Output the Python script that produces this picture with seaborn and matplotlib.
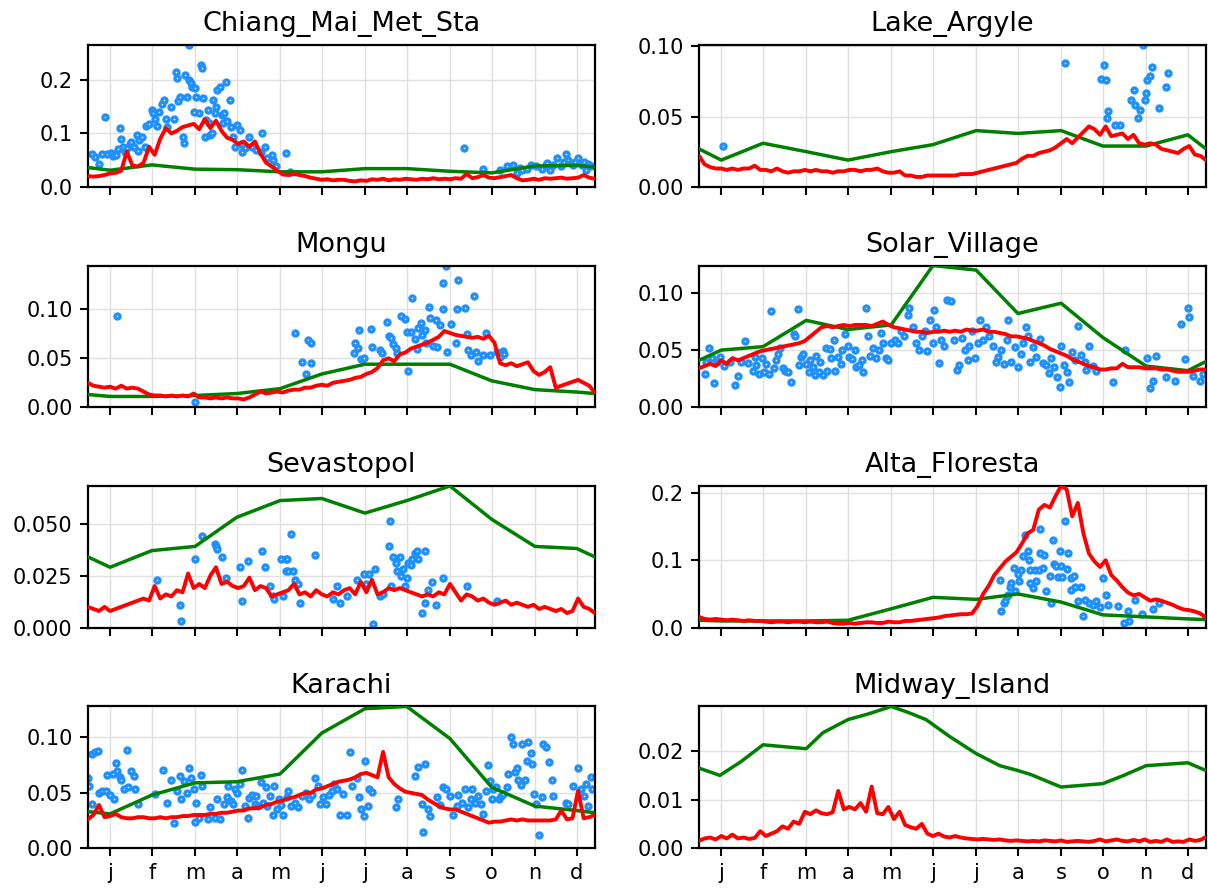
import numpy as np
import matplotlib
matplotlib.use("Agg")
import matplotlib.pyplot as plt
import seaborn as sns
from matplotlib.ticker import MultipleLocator

sns.set_theme(style="ticks")
plt.rcParams['font.family'] = ['DejaVu Sans']
plt.rcParams['text.color'] = 'black'
plt.rcParams['xtick.color'] = 'black'
plt.rcParams['ytick.color'] = 'black'

# eje x: dias del año, marcas a mitad de mes
month_ticks = [16, 46, 77, 107, 138, 168, 199, 229, 260, 290, 321, 351]
month_labels = ['j', 'f', 'm', 'a', 'm', 'j', 'j', 'a', 's', 'o', 'n', 'd']

red_days = np.arange(0, 365, 4)   # linea roja leida cada 4 dias (92 valores)
green_days = [0, 16, 46, 77, 107, 138, 168, 199, 229, 260, 290, 321, 351, 364]

# ---------------- Chiang_Mai_Met_Sta ----------------
chiang_red = [0.020, 0.019, 0.020, 0.022, 0.025, 0.026, 0.030, 0.066, 0.040, 0.038,
              0.045, 0.075, 0.060, 0.090, 0.110, 0.100, 0.105, 0.112, 0.115, 0.118,
              0.108, 0.127, 0.110, 0.124, 0.105, 0.092, 0.088, 0.080, 0.085, 0.075,
              0.085, 0.062, 0.045, 0.038, 0.030, 0.023, 0.022, 0.024, 0.022, 0.020,
              0.017, 0.015, 0.013, 0.014, 0.012, 0.013, 0.013, 0.011, 0.010, 0.012,
              0.011, 0.014, 0.013, 0.015, 0.012, 0.014, 0.013, 0.015, 0.014, 0.013,
              0.015, 0.014, 0.016, 0.014, 0.015, 0.014, 0.016, 0.015, 0.024, 0.016,
              0.018, 0.022, 0.017, 0.016, 0.018, 0.020, 0.022, 0.016, 0.012, 0.013,
              0.015, 0.013, 0.016, 0.015, 0.016, 0.017, 0.015, 0.016, 0.017, 0.022,
              0.017, 0.015]
chiang_green = [0.036, 0.031, 0.041, 0.033, 0.032, 0.028, 0.028, 0.034, 0.034, 0.029,
                0.026, 0.039, 0.040, 0.037]
chiang_dots = [(3, 0.061), (5, 0.055), (8, 0.042), (10, 0.062), (12, 0.130), (14, 0.061),
               (17, 0.064), (18, 0.058), (20, 0.059), (22, 0.070), (23, 0.110), (24, 0.089),
               (25, 0.075), (27, 0.066), (28, 0.072), (30, 0.081), (31, 0.084), (33, 0.075),
               (35, 0.097), (36, 0.068), (37, 0.088), (39, 0.094), (41, 0.075), (42, 0.114),
               (44, 0.118), (46, 0.144), (47, 0.138), (48, 0.128), (50, 0.114), (51, 0.141),
               (53, 0.156), (55, 0.163), (56, 0.128), (57, 0.113), (60, 0.150), (62, 0.128),
               (63, 0.216), (64, 0.204), (65, 0.160), (66, 0.169), (68, 0.094), (69, 0.083),
               (70, 0.209), (71, 0.169), (73, 0.200), (73, 0.266), (74, 0.194), (75, 0.188),
               (76, 0.140), (77, 0.186), (78, 0.169), (80, 0.138), (81, 0.228), (82, 0.222),
               (83, 0.166), (84, 0.094), (85, 0.125), (86, 0.144), (87, 0.120), (88, 0.097),
               (89, 0.100), (90, 0.163), (91, 0.138), (92, 0.150), (93, 0.181), (95, 0.188),
               (96, 0.134), (97, 0.120), (98, 0.138), (99, 0.197), (100, 0.124), (102, 0.163),
               (103, 0.113), (104, 0.094), (106, 0.075), (107, 0.116), (109, 0.106), (110, 0.081),
               (111, 0.066), (113, 0.072), (116, 0.094), (118, 0.075), (121, 0.069), (124, 0.066),
               (125, 0.100), (127, 0.075), (129, 0.053), (132, 0.059), (133, 0.050), (135, 0.038),
               (142, 0.064), (145, 0.028), (270, 0.072), (284, 0.034), (296, 0.031), (301, 0.038),
               (305, 0.041), (308, 0.025), (310, 0.036), (312, 0.031), (315, 0.034), (318, 0.041),
               (322, 0.038), (326, 0.034), (329, 0.041), (330, 0.045), (332, 0.031), (334, 0.041),
               (337, 0.053), (340, 0.038), (342, 0.047), (343, 0.062), (345, 0.050), (347, 0.044),
               (348, 0.040), (350, 0.047), (352, 0.053), (355, 0.041), (356, 0.046), (358, 0.031),
               (359, 0.043), (361, 0.038)]

# ---------------- Lake_Argyle ----------------
lake_red = [0.022, 0.016, 0.014, 0.013, 0.013, 0.012, 0.013, 0.012, 0.013, 0.013,
            0.015, 0.012, 0.012, 0.011, 0.013, 0.011, 0.010, 0.011, 0.011, 0.012,
            0.011, 0.012, 0.011, 0.011, 0.010, 0.011, 0.011, 0.012, 0.012, 0.011,
            0.012, 0.012, 0.013, 0.011, 0.010, 0.010, 0.011, 0.008, 0.008, 0.007,
            0.007, 0.008, 0.008, 0.008, 0.008, 0.008, 0.008, 0.009, 0.009, 0.009,
            0.010, 0.011, 0.012, 0.013, 0.014, 0.015, 0.016, 0.017, 0.020, 0.022,
            0.022, 0.024, 0.025, 0.026, 0.028, 0.031, 0.034, 0.031, 0.035, 0.039,
            0.043, 0.041, 0.037, 0.043, 0.036, 0.037, 0.038, 0.034, 0.037, 0.031,
            0.030, 0.031, 0.030, 0.027, 0.026, 0.025, 0.024, 0.027, 0.029, 0.023,
            0.022, 0.019]
lake_green = [0.027, 0.019, 0.031, 0.025, 0.019, 0.025, 0.030, 0.040, 0.038, 0.040,
              0.029, 0.029, 0.037, 0.027]
lake_dots = [(17, 0.029), (263, 0.088), (289, 0.077), (291, 0.087), (292, 0.076), (293, 0.049),
             (294, 0.054), (299, 0.044), (302, 0.044), (310, 0.062), (312, 0.069), (313, 0.058),
             (315, 0.049), (317, 0.055), (319, 0.101), (320, 0.062), (321, 0.067), (322, 0.076),
             (324, 0.079), (325, 0.085), (330, 0.056), (335, 0.071), (337, 0.081)]

# ---------------- Mongu ----------------
mongu_red = [0.025, 0.022, 0.021, 0.020, 0.021, 0.019, 0.022, 0.019, 0.020, 0.019,
             0.016, 0.013, 0.012, 0.012, 0.011, 0.012, 0.011, 0.012, 0.011, 0.014,
             0.010, 0.010, 0.009, 0.010, 0.009, 0.010, 0.009, 0.009, 0.008, 0.010,
             0.013, 0.016, 0.014, 0.015, 0.016, 0.015, 0.017, 0.018, 0.018, 0.020,
             0.020, 0.022, 0.023, 0.022, 0.025, 0.026, 0.027, 0.028, 0.030, 0.031,
             0.034, 0.036, 0.040, 0.048, 0.050, 0.047, 0.054, 0.056, 0.060, 0.062,
             0.064, 0.066, 0.069, 0.072, 0.078, 0.076, 0.074, 0.073, 0.072, 0.071,
             0.072, 0.070, 0.073, 0.066, 0.045, 0.043, 0.045, 0.042, 0.044, 0.046,
             0.037, 0.033, 0.036, 0.041, 0.020, 0.022, 0.024, 0.026, 0.028, 0.025,
             0.022, 0.015]
mongu_green = [0.013, 0.011, 0.011, 0.012, 0.014, 0.019, 0.034, 0.044, 0.044, 0.044,
               0.027, 0.018, 0.0155, 0.014]
mongu_dots = [(21, 0.093), (77, 0.005), (149, 0.076), (154, 0.046), (157, 0.034), (158, 0.069),
              (160, 0.066), (160, 0.045), (191, 0.055), (192, 0.066), (194, 0.061), (195, 0.079),
              (196, 0.049), (198, 0.050), (203, 0.080), (204, 0.062), (210, 0.059), (211, 0.055),
              (215, 0.087), (216, 0.073), (218, 0.071), (219, 0.065), (221, 0.061), (222, 0.055),
              (225, 0.093), (228, 0.090), (229, 0.077), (230, 0.037), (232, 0.077), (233, 0.112),
              (235, 0.070), (236, 0.060), (237, 0.081), (239, 0.086), (240, 0.074), (242, 0.079),
              (243, 0.066), (245, 0.103), (246, 0.091), (248, 0.063), (250, 0.089), (251, 0.062),
              (253, 0.084), (255, 0.101), (255, 0.127), (257, 0.145), (258, 0.057), (261, 0.085),
              (264, 0.066), (265, 0.101), (266, 0.130), (271, 0.102), (272, 0.075), (273, 0.059),
              (275, 0.053), (277, 0.114), (279, 0.056), (280, 0.047), (284, 0.053), (286, 0.076),
              (289, 0.053), (294, 0.057), (296, 0.051), (298, 0.058), (299, 0.054)]

# ---------------- Solar_Village ----------------
solar_red = [0.034, 0.036, 0.038, 0.036, 0.041, 0.038, 0.043, 0.041, 0.043, 0.045,
             0.047, 0.049, 0.050, 0.051, 0.052, 0.053, 0.054, 0.055, 0.056, 0.058,
             0.062, 0.066, 0.070, 0.071, 0.070, 0.071, 0.072, 0.071, 0.072, 0.072,
             0.072, 0.071, 0.073, 0.075, 0.072, 0.070, 0.069, 0.068, 0.067, 0.066,
             0.066, 0.065, 0.066, 0.066, 0.067, 0.066, 0.067, 0.066, 0.068, 0.067,
             0.067, 0.068, 0.066, 0.066, 0.065, 0.064, 0.062, 0.062, 0.061, 0.060,
             0.058, 0.056, 0.054, 0.051, 0.049, 0.047, 0.045, 0.042, 0.040, 0.038,
             0.036, 0.035, 0.033, 0.033, 0.034, 0.034, 0.038, 0.035, 0.035, 0.035,
             0.034, 0.034, 0.034, 0.033, 0.033, 0.032, 0.031, 0.031, 0.031, 0.032,
             0.033, 0.033]
solar_green = [0.041, 0.050, 0.053, 0.076, 0.068, 0.072, 0.124, 0.120, 0.082, 0.091,
               0.061, 0.036, 0.032, 0.040]
solar_dots = [(4, 0.029), (5, 0.040), (7, 0.052), (9, 0.043), (11, 0.021), (13, 0.040),
              (15, 0.044), (18, 0.036), (22, 0.040), (26, 0.019), (28, 0.027), (30, 0.040),
              (33, 0.058), (35, 0.039), (39, 0.032), (40, 0.044), (41, 0.037), (43, 0.029),
              (45, 0.043), (47, 0.031), (48, 0.038), (50, 0.029), (52, 0.084), (54, 0.034),
              (55, 0.041), (57, 0.047), (58, 0.052), (60, 0.034), (62, 0.032), (64, 0.031),
              (66, 0.022), (68, 0.064), (69, 0.062), (71, 0.086), (72, 0.037), (73, 0.044),
              (75, 0.047), (77, 0.038), (79, 0.031), (80, 0.041), (82, 0.035), (83, 0.028),
              (84, 0.045), (86, 0.031), (87, 0.040), (89, 0.028), (91, 0.052), (92, 0.032),
              (94, 0.051), (95, 0.043), (97, 0.059), (98, 0.032), (100, 0.044), (102, 0.038),
              (103, 0.050), (105, 0.064), (107, 0.054), (108, 0.044), (110, 0.042), (112, 0.050),
              (113, 0.035), (115, 0.037), (117, 0.041), (118, 0.031), (120, 0.087), (121, 0.062),
              (123, 0.045), (125, 0.052), (127, 0.043), (129, 0.050), (131, 0.065), (132, 0.056),
              (134, 0.043), (136, 0.041), (138, 0.056), (141, 0.059), (143, 0.056), (145, 0.067),
              (147, 0.062), (150, 0.081), (151, 0.087), (154, 0.070), (156, 0.056), (158, 0.050),
              (160, 0.062), (162, 0.067), (164, 0.049), (166, 0.076), (168, 0.056), (169, 0.085),
              (170, 0.070), (172, 0.039), (174, 0.059), (176, 0.054), (178, 0.094), (181, 0.093),
              (183, 0.059), (185, 0.033), (187, 0.037), (189, 0.061), (191, 0.050), (193, 0.041),
              (194, 0.054), (196, 0.067), (198, 0.043), (200, 0.056), (202, 0.076), (204, 0.059),
              (206, 0.070), (208, 0.062), (211, 0.054), (213, 0.040), (215, 0.044), (217, 0.050),
              (219, 0.038), (221, 0.059), (222, 0.076), (224, 0.040), (227, 0.053), (229, 0.035),
              (231, 0.047), (233, 0.056), (235, 0.070), (236, 0.062), (238, 0.040), (240, 0.053),
              (242, 0.044), (245, 0.060), (247, 0.039), (249, 0.037), (251, 0.030), (253, 0.043),
              (255, 0.035), (257, 0.026), (259, 0.018), (260, 0.054), (262, 0.037), (264, 0.031),
              (266, 0.022), (268, 0.048), (270, 0.041), (272, 0.071), (274, 0.046), (277, 0.040),
              (278, 0.033), (280, 0.054), (283, 0.036), (285, 0.032), (297, 0.022), (306, 0.050),
              (322, 0.043), (324, 0.017), (326, 0.023), (328, 0.045), (335, 0.026), (342, 0.023),
              (346, 0.073), (349, 0.042), (351, 0.087), (352, 0.079), (355, 0.027), (360, 0.023),
              (362, 0.029)]

# ---------------- Sevastopol ----------------
sevas_red = [0.010, 0.009, 0.008, 0.010, 0.008, 0.009, 0.010, 0.011, 0.012, 0.013,
             0.014, 0.013, 0.020, 0.014, 0.016, 0.015, 0.018, 0.017, 0.026, 0.019,
             0.021, 0.019, 0.025, 0.029, 0.021, 0.022, 0.020, 0.019, 0.020, 0.024,
             0.018, 0.020, 0.019, 0.015, 0.016, 0.017, 0.018, 0.021, 0.016, 0.017,
             0.015, 0.018, 0.016, 0.015, 0.017, 0.016, 0.018, 0.019, 0.016, 0.022,
             0.017, 0.023, 0.016, 0.017, 0.019, 0.018, 0.019, 0.018, 0.017, 0.016,
             0.015, 0.016, 0.015, 0.017, 0.016, 0.021, 0.017, 0.013, 0.016, 0.015,
             0.013, 0.014, 0.012, 0.011, 0.012, 0.013, 0.011, 0.012, 0.011, 0.010,
             0.011, 0.009, 0.010, 0.009, 0.008, 0.009, 0.007, 0.008, 0.014, 0.010,
             0.009, 0.007]
sevas_green = [0.034, 0.029, 0.037, 0.039, 0.053, 0.061, 0.062, 0.055, 0.061, 0.068,
               0.052, 0.039, 0.038, 0.034]
sevas_dots = [(50, 0.023), (66, 0.011), (67, 0.003), (77, 0.033), (82, 0.044), (91, 0.040),
              (92, 0.039), (93, 0.038), (96, 0.034), (99, 0.024), (109, 0.029), (111, 0.013),
              (115, 0.032), (125, 0.037), (127, 0.029), (131, 0.020), (133, 0.015), (134, 0.014),
              (139, 0.033), (140, 0.015), (142, 0.033), (143, 0.033), (142, 0.027), (144, 0.027),
              (146, 0.045), (147, 0.027), (149, 0.023), (151, 0.021), (152, 0.012), (163, 0.035),
              (176, 0.014), (179, 0.020), (181, 0.012), (186, 0.015), (193, 0.023), (198, 0.026),
              (200, 0.021), (202, 0.026), (205, 0.002), (206, 0.028), (210, 0.015), (212, 0.016),
              (216, 0.039), (217, 0.051), (218, 0.020), (219, 0.034), (221, 0.031), (222, 0.027),
              (224, 0.034), (225, 0.025), (226, 0.028), (228, 0.020), (229, 0.024), (230, 0.031),
              (232, 0.030), (233, 0.033), (235, 0.036), (236, 0.037), (237, 0.033), (240, 0.007),
              (242, 0.037), (242, 0.012), (244, 0.018), (247, 0.022), (250, 0.011), (255, 0.024),
              (272, 0.020), (294, 0.013)]

# ---------------- Alta_Floresta ----------------
alta_red = [0.016, 0.013, 0.012, 0.013, 0.012, 0.011, 0.012, 0.011, 0.010, 0.011,
            0.010, 0.010, 0.009, 0.008, 0.009, 0.009, 0.008, 0.009, 0.009, 0.008,
            0.009, 0.008, 0.008, 0.009, 0.007, 0.006, 0.006, 0.007, 0.006, 0.007,
            0.008, 0.008, 0.007, 0.007, 0.009, 0.008, 0.008, 0.010, 0.010, 0.011,
            0.012, 0.013, 0.014, 0.015, 0.017, 0.018, 0.019, 0.020, 0.020, 0.021,
            0.032, 0.050, 0.062, 0.078, 0.088, 0.098, 0.105, 0.112, 0.125, 0.140,
            0.145, 0.175, 0.182, 0.178, 0.195, 0.210, 0.205, 0.165, 0.185, 0.140,
            0.110, 0.098, 0.090, 0.100, 0.078, 0.070, 0.060, 0.052, 0.048, 0.050,
            0.045, 0.040, 0.042, 0.040, 0.037, 0.034, 0.030, 0.027, 0.026, 0.024,
            0.021, 0.015]
alta_green = [0.011, 0.010, 0.010, 0.010, 0.011, 0.028, 0.045, 0.042, 0.050, 0.038,
              0.019, 0.016, 0.013, 0.012]
alta_dots = [(216, 0.071), (217, 0.024), (219, 0.036), (220, 0.040), (221, 0.047), (222, 0.048),
             (223, 0.061), (224, 0.066), (226, 0.089), (227, 0.054), (229, 0.080), (230, 0.069),
             (231, 0.086), (233, 0.106), (234, 0.137), (236, 0.113), (237, 0.101), (238, 0.066),
             (238, 0.086), (240, 0.059), (241, 0.086), (242, 0.069), (244, 0.086), (245, 0.147),
             (245, 0.110), (247, 0.088), (248, 0.108), (249, 0.054), (252, 0.077), (253, 0.036),
             (254, 0.130), (255, 0.094), (256, 0.091), (258, 0.075), (259, 0.113), (260, 0.091),
             (261, 0.075), (263, 0.158), (264, 0.087), (265, 0.110), (267, 0.074), (267, 0.056),
             (269, 0.076), (270, 0.061), (272, 0.039), (274, 0.060), (276, 0.017), (277, 0.041),
             (280, 0.037), (283, 0.034), (285, 0.039), (288, 0.031), (290, 0.074), (292, 0.049),
             (294, 0.034), (301, 0.032), (305, 0.007), (308, 0.024), (309, 0.010), (313, 0.041),
             (318, 0.021), (326, 0.027), (330, 0.036)]

# ---------------- Karachi ----------------
karachi_red = [0.026, 0.030, 0.039, 0.028, 0.029, 0.031, 0.028, 0.027, 0.027, 0.028,
               0.028, 0.027, 0.027, 0.028, 0.027, 0.028, 0.028, 0.029, 0.029, 0.030,
               0.030, 0.030, 0.031, 0.031, 0.032, 0.032, 0.033, 0.034, 0.034, 0.036,
               0.036, 0.037, 0.039, 0.040, 0.042, 0.043, 0.045, 0.046, 0.048, 0.050,
               0.050, 0.053, 0.054, 0.056, 0.058, 0.060, 0.061, 0.062, 0.064, 0.067,
               0.068, 0.066, 0.064, 0.087, 0.064, 0.058, 0.054, 0.051, 0.050, 0.049,
               0.048, 0.044, 0.041, 0.038, 0.036, 0.035, 0.035, 0.033, 0.031, 0.029,
               0.027, 0.025, 0.023, 0.024, 0.024, 0.025, 0.026, 0.025, 0.026, 0.025,
               0.025, 0.025, 0.025, 0.025, 0.026, 0.034, 0.026, 0.027, 0.052, 0.027,
               0.028, 0.030]
karachi_green = [0.033, 0.031, 0.048, 0.059, 0.060, 0.067, 0.104, 0.126, 0.128, 0.099,
                 0.055, 0.038, 0.034, 0.032]
karachi_dots = [(0, 0.063), (1, 0.056), (3, 0.085), (3, 0.040), (5, 0.087), (7, 0.088),
                (8, 0.050), (10, 0.052), (13, 0.052), (14, 0.066), (16, 0.048), (18, 0.067),
                (19, 0.044), (20, 0.077), (21, 0.070), (23, 0.064), (24, 0.062), (26, 0.053),
                (28, 0.089), (29, 0.055), (31, 0.070), (33, 0.065), (34, 0.053), (36, 0.040),
                (48, 0.049), (54, 0.071), (57, 0.041), (60, 0.062), (62, 0.023), (64, 0.052),
                (66, 0.065), (67, 0.044), (69, 0.061), (71, 0.050), (73, 0.072), (74, 0.063),
                (76, 0.053), (77, 0.024), (78, 0.041), (80, 0.027), (81, 0.066), (82, 0.056),
                (86, 0.026), (88, 0.037), (91, 0.027), (93, 0.044), (95, 0.026), (98, 0.040),
                (100, 0.046), (101, 0.056), (103, 0.043), (104, 0.040), (106, 0.053), (107, 0.050),
                (109, 0.058), (111, 0.071), (113, 0.038), (115, 0.027), (116, 0.045), (118, 0.048),
                (120, 0.040), (121, 0.047), (122, 0.038), (124, 0.060), (126, 0.041), (128, 0.055),
                (129, 0.038), (131, 0.047), (133, 0.030), (134, 0.056), (136, 0.035), (137, 0.044),
                (139, 0.039), (140, 0.030), (143, 0.046), (144, 0.052), (146, 0.038), (149, 0.041),
                (151, 0.037), (154, 0.047), (157, 0.050), (159, 0.044), (161, 0.048), (163, 0.063),
                (165, 0.056), (167, 0.040), (169, 0.046), (171, 0.040), (173, 0.048), (175, 0.052),
                (177, 0.058), (179, 0.053), (181, 0.030), (183, 0.049), (186, 0.030), (188, 0.087),
                (190, 0.056), (193, 0.063), (195, 0.046), (196, 0.035), (198, 0.029), (199, 0.079),
                (201, 0.038), (202, 0.053), (204, 0.051), (221, 0.037), (223, 0.044), (235, 0.065),
                (237, 0.073), (240, 0.040), (241, 0.015), (242, 0.076), (244, 0.035), (246, 0.029),
                (251, 0.046), (253, 0.039), (255, 0.055), (257, 0.053), (260, 0.047), (262, 0.030),
                (265, 0.038), (266, 0.048), (269, 0.041), (271, 0.053), (273, 0.037), (275, 0.044),
                (276, 0.053), (278, 0.041), (280, 0.047), (282, 0.040), (284, 0.031), (286, 0.052),
                (287, 0.075), (289, 0.061), (290, 0.044), (291, 0.053), (293, 0.055), (295, 0.044),
                (297, 0.047), (298, 0.049), (301, 0.055), (302, 0.067), (304, 0.100), (305, 0.094),
                (307, 0.069), (308, 0.072), (309, 0.062), (311, 0.057), (312, 0.094), (314, 0.062),
                (315, 0.079), (316, 0.096), (318, 0.086), (319, 0.076), (320, 0.049), (322, 0.040),
                (324, 0.012), (326, 0.046), (327, 0.094), (329, 0.091), (331, 0.078), (333, 0.062),
                (334, 0.047), (343, 0.041), (345, 0.040), (348, 0.056), (352, 0.072), (354, 0.053),
                (356, 0.047), (358, 0.058), (359, 0.038), (361, 0.064), (362, 0.053)]

# ---------------- Midway_Island ----------------
midway_red = [0.0015, 0.0020, 0.0022, 0.0018, 0.0025, 0.0020, 0.0028, 0.0020, 0.0022, 0.0019,
              0.0021, 0.0035, 0.0025, 0.0030, 0.0035, 0.0045, 0.0040, 0.0055, 0.0050, 0.0075,
              0.0070, 0.0078, 0.0072, 0.0070, 0.0074, 0.0118, 0.0080, 0.0085, 0.0080, 0.0093,
              0.0075, 0.0127, 0.0072, 0.0070, 0.0085, 0.0060, 0.0075, 0.0048, 0.0043, 0.0040,
              0.0050, 0.0030, 0.0025, 0.0030, 0.0024, 0.0022, 0.0025, 0.0022, 0.0020, 0.0019,
              0.0018, 0.0019, 0.0018, 0.0017, 0.0018, 0.0016, 0.0015, 0.0016, 0.0015, 0.0014,
              0.0015, 0.0014, 0.0016, 0.0015, 0.0014, 0.0016, 0.0013, 0.0014, 0.0015, 0.0014,
              0.0013, 0.0015, 0.0018, 0.0014, 0.0016, 0.0018, 0.0015, 0.0014, 0.0017, 0.0014,
              0.0018, 0.0013, 0.0015, 0.0013, 0.0018, 0.0013, 0.0014, 0.0013, 0.0018, 0.0015,
              0.0017, 0.0023]
midway_green_days = [0, 15, 30, 46, 77, 89, 107, 122, 138, 150, 163, 180, 199, 216, 229, 238,
                     260, 290, 305, 321, 351, 364]
midway_green = [0.0165, 0.0150, 0.0178, 0.0213, 0.0205, 0.0238, 0.0265, 0.0277, 0.0292, 0.0280,
                0.0265, 0.0230, 0.0195, 0.0170, 0.0160, 0.0152, 0.0126, 0.0133, 0.0150, 0.0170,
                0.0176, 0.0160]
midway_dots = []

# orden de los paneles (fila por fila) y paso de las marcas del eje y
paneles = [
    ('Chiang_Mai_Met_Sta', chiang_dots, green_days, chiang_green, chiang_red, 0.1),
    ('Lake_Argyle', lake_dots, green_days, lake_green, lake_red, 0.05),
    ('Mongu', mongu_dots, green_days, mongu_green, mongu_red, 0.05),
    ('Solar_Village', solar_dots, green_days, solar_green, solar_red, 0.05),
    ('Sevastopol', sevas_dots, green_days, sevas_green, sevas_red, 0.025),
    ('Alta_Floresta', alta_dots, green_days, alta_green, alta_red, 0.1),
    ('Karachi', karachi_dots, green_days, karachi_green, karachi_red, 0.05),
    ('Midway_Island', midway_dots, midway_green_days, midway_green, midway_red, 0.01),
]

fig, axes = plt.subplots(4, 2, figsize=(12.08, 8.90), dpi=100, sharex=True)
fig.subplots_adjust(left=0.0727, right=0.9983, bottom=0.047, top=0.9494,
                    wspace=0.2055, hspace=0.556)

for ax, (nombre, puntos, gx, gy, ry, paso) in zip(axes.flat, paneles):
    tope = max(max(gy), max(ry))
    if puntos:
        px = [p[0] for p in puntos]
        py = [p[1] for p in puntos]
        tope = max(tope, max(py))
        sns.scatterplot(x=px, y=py, ax=ax, s=13, color='white', edgecolor='#1E90FF',
                        linewidth=2.4, zorder=2)
    sns.lineplot(x=gx, y=gy, ax=ax, color='green', linewidth=2.5, zorder=3)
    sns.lineplot(x=red_days, y=ry, ax=ax, color='red', linewidth=2.8, zorder=4)

    ax.set_xlim(0, 364)
    ax.set_ylim(0, tope)
    ax.set_xticks(month_ticks, month_labels)
    ax.yaxis.set_major_locator(MultipleLocator(paso))
    ax.set_title(nombre, fontsize=19.5, pad=10, color='black')
    ax.set_xlabel('')
    ax.set_ylabel('')
    ax.grid(True, color='#e0e0e0', linewidth=1)
    ax.set_axisbelow(True)
    ax.tick_params(labelsize=15, length=6, width=1.5, colors='black', direction='out', pad=5)
    for sp in ax.spines.values():
        sp.set_color('black')
        sp.set_linewidth(1.6)

plt.savefig('out.png', dpi=100)
